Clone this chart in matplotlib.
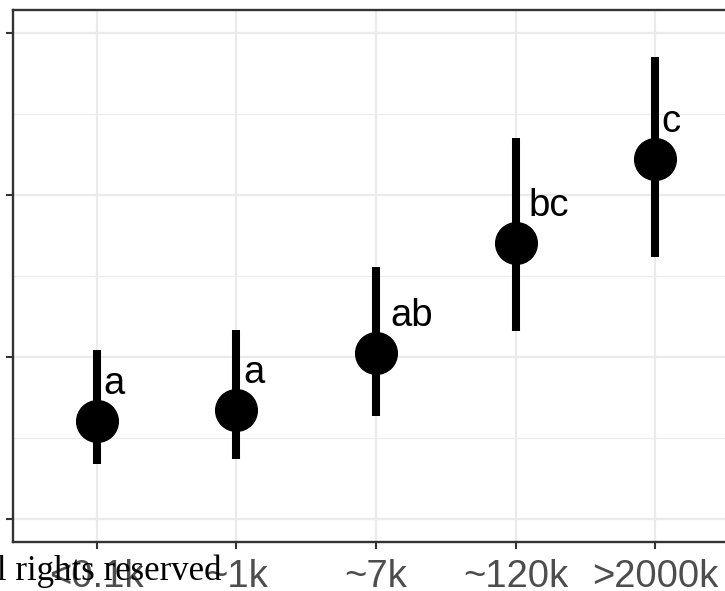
import numpy as np
import matplotlib
matplotlib.use("Agg")
import matplotlib.pyplot as plt
from matplotlib.ticker import FixedLocator, NullFormatter
import matplotlib.transforms as mtransforms

# group means with lower / upper interval bounds
groups = ["<0.1k", "~1k", "~7k", "~120k", ">2000k"]
means = [0.605, 0.673, 1.025, 1.704, 2.222]
lower = [0.340, 0.370, 0.636, 1.160, 1.617]
upper = [1.043, 1.167, 1.556, 2.352, 2.852]
letters = ["a", "a", "ab", "bc", "c"]

plt.rcParams["font.family"] = ["Liberation Sans", "DejaVu Sans"]

fig = plt.figure(figsize=(7.25, 5.91), dpi=100)
ax = fig.add_axes([13 / 725, 49 / 591, 726 / 725, 532 / 591])

x = np.arange(len(groups))
ax.vlines(x, lower, upper, color="black", lw=5.8, zorder=3)
ax.plot(x, means, "o", color="black", ms=30, zorder=4)

ax.set_xlim(-0.6, len(groups) - 0.4)
ax.set_ylim(-0.142, 3.142)
ax.set_xticks(x)
ax.set_xticklabels(groups, fontsize=27.5, color="#4d4d4d")
ax.yaxis.set_major_locator(FixedLocator([0, 1, 2, 3]))
ax.yaxis.set_minor_locator(FixedLocator([0.5, 1.5, 2.5]))
ax.yaxis.set_major_formatter(NullFormatter())

ax.grid(which="major", color="#ebebeb", lw=1.6, zorder=0)
ax.grid(which="minor", axis="y", color="#ebebeb", lw=0.8, zorder=0)
ax.set_axisbelow(True)
ax.tick_params(which="major", length=5, width=1.5, color="#333333", pad=7)
ax.tick_params(which="minor", length=0)
for sp in ax.spines.values():
    sp.set_color("#333333")
    sp.set_linewidth(1.7)

# significance letters, nudged right by a third of their own width
renderer = fig.canvas.get_renderer()
for xi, m, lab in zip(x, means, letters):
    t = ax.text(xi, m, lab, fontsize=27.5, color="black", ha="left", va="baseline")
    w = t.get_window_extent(renderer).width
    t.set_transform(mtransforms.offset_copy(ax.transData, fig=fig,
                                            x=0.33 * w * 72 / fig.dpi, y=19.5,
                                            units="points"))

fig.text(222 / 725, 11 / 591, "All rights reserved", fontsize=25,
         family="Liberation Serif", color="black", ha="right", va="baseline")

fig.savefig("out.png", dpi=100)
